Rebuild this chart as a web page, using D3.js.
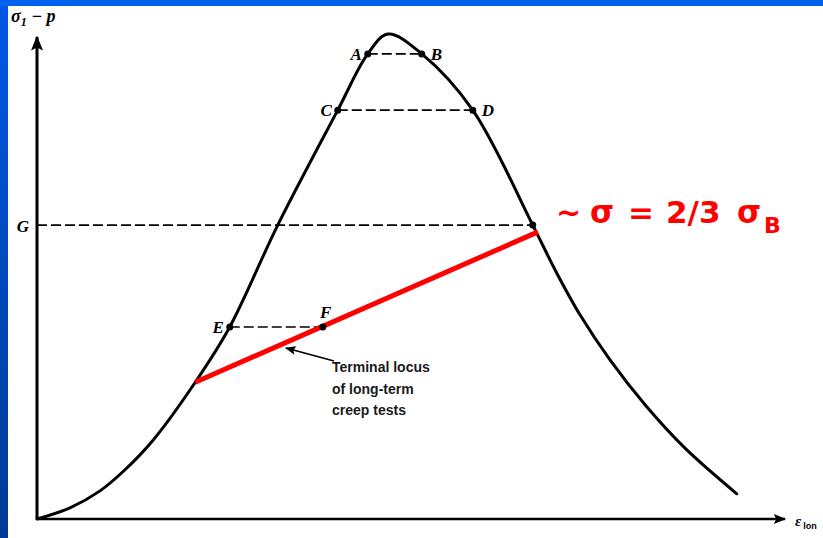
<!DOCTYPE html>
<html>
<head>
<meta charset="utf-8">
<script src="https://cdn.jsdelivr.net/npm/d3@7"></script>
<style>
  html, body { margin: 0; padding: 0; background: #ffffff; }
  svg { display: block; }
</style>
</head>
<body>
<svg id="chart" width="823" height="538"></svg>
<script>
// Stress–strain curve (strain in %, stress as % of peak)
const curveStrain = [0, 4.4, 8.4, 11.7, 15.5, 21.1, 25.7, 32.1, 40.1, 44.1, 46.8, 51.3, 58.1, 66.1, 69.1, 72.4, 76.4, 81.1, 86.4, 93.3];
const curveStress = [0, 2.3, 5.8, 10.1, 16.3, 28.2, 39.6, 60.6, 84.3, 95.9, 100, 95.9, 84.3, 60.6, 51.3, 42.1, 32.8, 23.5, 14.6, 5.2];

// Equal-stress point pairs joined by dashed lines
const pairNames   = [["A", "B"], ["C", "D"], ["E", "F"]];
const pairStrainL = [44.1, 40.1, 25.7];
const pairStrainR = [51.3, 58.1, 38.1];
const pairStress  = [95.9, 84.3, 39.6];

// Level G: from the stress axis to the descending branch
const gLabel = "G";
const gStress = 60.6;
const gStrain = 66.1;

// Terminal locus of long-term creep tests
const locusStrain = [21.1, 66.8];
const locusStress = [28.2, 59.2];
const locusNote = ["Terminal locus", "of long-term", "creep tests"];

const svg = d3.select("#chart");
const W = 823, H = 538;

// Slide frame
const defs = svg.append("defs");
const grad = defs.append("linearGradient").attr("id", "sideGrad")
  .attr("x1", 0).attr("y1", 0).attr("x2", 0).attr("y2", 1);
grad.append("stop").attr("offset", "0%").attr("stop-color", "#0058e6");
grad.append("stop").attr("offset", "100%").attr("stop-color", "#003a94");
svg.append("rect").attr("x", 0).attr("y", 0).attr("width", W).attr("height", H).attr("fill", "#ffffff");
svg.append("rect").attr("x", 0).attr("y", 0).attr("width", 8).attr("height", H).attr("fill", "url(#sideGrad)");
svg.append("rect").attr("x", 0).attr("y", 0).attr("width", W).attr("height", 6).attr("fill", "#0062ee");

const x = d3.scaleLinear().domain([0, 100]).range([37, 787]);
const y = d3.scaleLinear().domain([0, 100]).range([519, 34]);

defs.append("marker").attr("id", "axArrow")
  .attr("viewBox", "0 0 10 10").attr("refX", 9).attr("refY", 5)
  .attr("markerWidth", 6).attr("markerHeight", 5).attr("orient", "auto")
  .attr("markerUnits", "strokeWidth")
  .append("path").attr("d", "M0,1 L10,5 L0,9 L2,5 Z").attr("fill", "#000");
defs.append("marker").attr("id", "noteArrow")
  .attr("viewBox", "0 0 10 10").attr("refX", 9).attr("refY", 5)
  .attr("markerWidth", 7).attr("markerHeight", 6).attr("orient", "auto")
  .attr("markerUnits", "strokeWidth")
  .append("path").attr("d", "M0,1 L10,5 L0,9 L2,5 Z").attr("fill", "#000");

// Axes
svg.append("line")
  .attr("x1", x(0)).attr("y1", y(0)).attr("x2", x(0)).attr("y2", y(0) - 482)
  .attr("stroke", "#000").attr("stroke-width", 3).attr("marker-end", "url(#axArrow)");
svg.append("line")
  .attr("x1", x(0)).attr("y1", y(0)).attr("x2", x(0) + 748).attr("y2", y(0))
  .attr("stroke", "#000").attr("stroke-width", 2.5).attr("marker-end", "url(#axArrow)");

// Axis titles
const yTitle = svg.append("text").attr("x", 11).attr("y", 22)
  .attr("font-family", "Liberation Serif, serif").attr("font-style", "italic")
  .attr("font-weight", "bold").attr("font-size", 18).attr("fill", "#000");
yTitle.append("tspan").text("σ");
yTitle.append("tspan").attr("dy", 4).attr("font-size", 12).text("1");
yTitle.append("tspan").attr("dy", -4).text(" − p");

const xTitle = svg.append("text").attr("x", 795).attr("y", 526)
  .attr("font-family", "Liberation Serif, serif").attr("font-style", "italic")
  .attr("font-weight", "bold").attr("font-size", 15).attr("fill", "#000");
xTitle.append("tspan").text("ε");
xTitle.append("tspan").attr("dy", 3).attr("dx", 2).attr("font-size", 9)
  .attr("font-style", "normal").attr("font-family", "Liberation Sans, Arial, sans-serif").text("lon");

// Dashed level lines
const dash = "10,4";
svg.append("line")
  .attr("x1", x(0)).attr("y1", y(gStress)).attr("x2", x(gStrain)).attr("y2", y(gStress))
  .attr("stroke", "#000").attr("stroke-width", 1.6).attr("stroke-dasharray", dash);
pairNames.forEach((p, i) => {
  svg.append("line")
    .attr("x1", x(pairStrainL[i])).attr("y1", y(pairStress[i]))
    .attr("x2", x(pairStrainR[i])).attr("y2", y(pairStress[i]))
    .attr("stroke", "#000").attr("stroke-width", 1.6).attr("stroke-dasharray", dash);
});

// Stress–strain curve
const line = d3.line().x(d => x(d[0])).y(d => y(d[1])).curve(d3.curveCatmullRom.alpha(0.5));
svg.append("path")
  .datum(curveStrain.map((s, i) => [s, curveStress[i]]))
  .attr("d", line).attr("fill", "none").attr("stroke", "#000")
  .attr("stroke-width", 3).attr("stroke-linejoin", "round").attr("stroke-linecap", "round");

// Locus line (red)
svg.append("line")
  .attr("x1", x(locusStrain[0])).attr("y1", y(locusStress[0]))
  .attr("x2", x(locusStrain[1])).attr("y2", y(locusStress[1]))
  .attr("stroke", "#ff0000").attr("stroke-width", 5);

// Point markers
const dots = [];
pairNames.forEach((p, i) => {
  dots.push([pairStrainL[i], pairStress[i]]);
  dots.push([pairStrainR[i], pairStress[i]]);
});
dots.push([gStrain, gStress]);
svg.selectAll("circle.pt").data(dots).enter().append("circle")
  .attr("class", "pt").attr("cx", d => x(d[0])).attr("cy", d => y(d[1]))
  .attr("r", 3.5).attr("fill", "#000");

// Point letters
function letter(txt, px, py, anchor) {
  svg.append("text").attr("x", px).attr("y", py).attr("text-anchor", anchor)
    .attr("font-family", "Liberation Serif, serif").attr("font-style", "italic")
    .attr("font-weight", "bold").attr("font-size", 17).attr("fill", "#000")
    .text(txt);
}
pairNames.forEach((p, i) => {
  const yy = y(pairStress[i]) + 6;
  letter(p[0], x(pairStrainL[i]) - 6, yy, "end");
  if (p[1] === "F") {
    letter(p[1], x(pairStrainR[i]) + 3, y(pairStress[i]) - 9, "middle");
  } else {
    letter(p[1], x(pairStrainR[i]) + 9, yy, "start");
  }
});
letter(gLabel, x(0) - 8, y(gStress) + 7, "end");

// Note for the locus line
svg.append("line")
  .attr("x1", 334).attr("y1", 361).attr("x2", 286).attr("y2", 348)
  .attr("stroke", "#000").attr("stroke-width", 1.8).attr("marker-end", "url(#noteArrow)");
svg.append("text").attr("x", 332).attr("y", 372)
  .attr("font-family", "Liberation Sans, Arial, sans-serif").attr("font-size", 14)
  .attr("font-weight", "bold").attr("fill", "#1a1a1a")
  .selectAll("tspan").data(locusNote).enter().append("tspan")
  .attr("x", 332).attr("dy", (d, i) => i === 0 ? 0 : 21.5).text(d => d);

// Ratio annotation (red)
const annParts = [
  { t: "~", x: 556, dy: 0, size: 30 },
  { t: "σ", x: 590, dy: 0, size: 31 },
  { t: "=", x: 628, dy: 0, size: 31 },
  { t: "2/3", x: 666, dy: 0, size: 31 },
  { t: "σ", x: 737, dy: 0, size: 31 },
  { t: "B", x: 764, dy: 10, size: 22 }
];
const ann = svg.append("text").attr("y", 223)
  .attr("font-family", "DejaVu Sans, sans-serif").attr("font-weight", "bold")
  .attr("fill", "#ff0000");
let prevDy = 0;
annParts.forEach(p => {
  ann.append("tspan").attr("x", p.x).attr("dy", p.dy - prevDy)
    .attr("font-size", p.size).text(p.t);
  prevDy = p.dy;
});
</script>
</body>
</html>
